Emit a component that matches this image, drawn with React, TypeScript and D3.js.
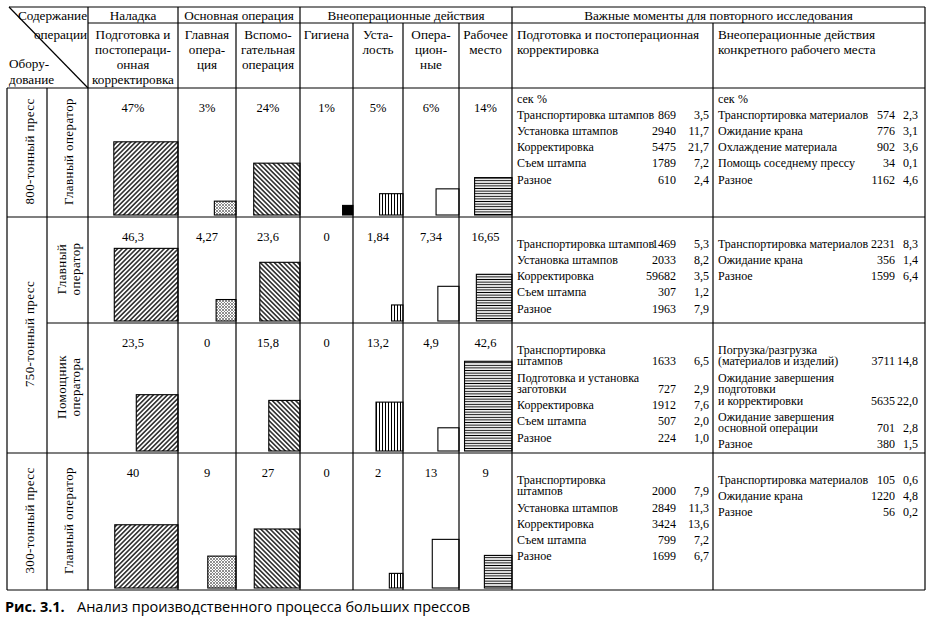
import React from "react";
import * as d3 from "d3";

// ---------- DATA ----------
const groupHeaders = [
  "Наладка",
  "Основная операция",
  "Внеоперационные действия",
  "Важные моменты для повторного исследования",
];
const categoryHeaders = [
  ["Подготовка и", "постопераци-", "онная", "корректировка"],
  ["Главная", "опера-", "ция"],
  ["Вспомо-", "гательная", "операция"],
  ["Гигиена"],
  ["Уста-", "лость"],
  ["Опера-", "цион-", "ные"],
  ["Рабочее", "место"],
];
const noteHeaders = [
  ["Подготовка и постоперационная", "корректировка"],
  ["Внеоперационные действия", "конкретного рабочего места"],
];
const cornerTop = ["Содержание", "операции"];
const cornerBottom = ["Обору-", "дование"];
const presses = ["800-тонный пресс", "750-тонный пресс", "300-тонный пресс"];
const pressRows = [[0, 0], [1, 2], [3, 3]];
const roles = [
  ["Главный оператор"],
  ["Главный", "оператор"],
  ["Помощник", "оператора"],
  ["Главный оператор"],
];

const values = [
  [47, 3, 24, 1, 5, 6, 14],
  [46.3, 4.27, 23.6, 0, 1.84, 7.34, 16.65],
  [23.5, 0, 15.8, 0, 13.2, 4.9, 42.6],
  [40, 9, 27, 0, 2, 13, 9],
];
const valueLabels = [
  ["47%", "3%", "24%", "1%", "5%", "6%", "14%"],
  ["46,3", "4,27", "23,6", "0", "1,84", "7,34", "16,65"],
  ["23,5", "0", "15,8", "0", "13,2", "4,9", "42,6"],
  ["40", "9", "27", "0", "2", "13", "9"],
];
// height / width ratio of each drawn rectangle (area ~ value)
const barAspect = [
  [1.14, 0.64, 1.12, 0.92, 0.91, 1.14, 1.0],
  [1.14, 1.08, 1.46, 1, 1.4, 1.64, 1.31],
  [1.35, 1, 1.62, 1, 1.81, 1.1, 1.89],
  [1.0, 1.13, 1.29, 1, 1.07, 1.82, 1.18],
];

type Note = [string[], string, string];
const prepNotes: Note[][] = [
  [
    [["Транспортировка штампов"], "869", "3,5"],
    [["Установка штампов"], "2940", "11,7"],
    [["Корректировка"], "5475", "21,7"],
    [["Съем штампа"], "1789", "7,2"],
    [["Разное"], "610", "2,4"],
  ],
  [
    [["Транспортировка штампов"], "1469", "5,3"],
    [["Установка штампов"], "2033", "8,2"],
    [["Корректировка"], "59682", "3,5"],
    [["Съем штампа"], "307", "1,2"],
    [["Разное"], "1963", "7,9"],
  ],
  [
    [["Транспортировка", "штампов"], "1633", "6,5"],
    [["Подготовка и установка", "заготовки"], "727", "2,9"],
    [["Корректировка"], "1912", "7,6"],
    [["Съем штампа"], "507", "2,0"],
    [["Разное"], "224", "1,0"],
  ],
  [
    [["Транспортировка", "штампов"], "2000", "7,9"],
    [["Установка штампов"], "2849", "11,3"],
    [["Корректировка"], "3424", "13,6"],
    [["Съем штампа"], "799", "7,2"],
    [["Разное"], "1699", "6,7"],
  ],
];
const nonopNotes: Note[][] = [
  [
    [["Транспортировка материалов"], "574", "2,3"],
    [["Ожидание крана"], "776", "3,1"],
    [["Охлаждение материала"], "902", "3,6"],
    [["Помощь соседнему прессу"], "34", "0,1"],
    [["Разное"], "1162", "4,6"],
  ],
  [
    [["Транспортировка материалов"], "2231", "8,3"],
    [["Ожидание крана"], "356", "1,4"],
    [["Разное"], "1599", "6,4"],
  ],
  [
    [["Погрузка/разгрузка", "(материалов и изделий)"], "3711", "14,8"],
    [["Ожидание завершения", "подготовки", "и корректировки"], "5635", "22,0"],
    [["Ожидание завершения", "основной операции"], "701", "2,8"],
    [["Разное"], "380", "1,5"],
  ],
  [
    [["Транспортировка материалов"], "105", "0,6"],
    [["Ожидание крана"], "1220", "4,8"],
    [["Разное"], "56", "0,2"],
  ],
];
const unitsHeader = ["сек", "%"];
const captionBold = "Рис. 3.1.";
const captionText = "Анализ производственного процесса больших прессов";

// ---------- LAYOUT / STYLE ----------
const W = 934;
const H = 624;
const COL = [88, 178, 236, 300, 353, 403, 459, 512, 713, 925];
const ROW = [88, 217, 323, 453, 590];
const LEFT = 7;
const PRESS_X = 47;
const TOP = 7;
const MID = 23;
const groupSpan = [[0, 1], [1, 3], [3, 7], [7, 9]];
const SERIF = "'Liberation Serif', 'Times New Roman', serif";
const FS = 12;
const HFS = 13.2;
const fills = ["url(#pFwd)", "url(#pDots)", "url(#pBack)", "#000", "url(#pVert)", "#fff", "url(#pHor)"];
const LW = 1.2;
const WRAP = 11.5;
const STEP = 16.2;

const sideScale = d3.scaleSqrt().domain([0, 50]).range([0, 70.7]);

function NoteTable({ items, x, secX, pctX, y0 }: { items: Note[]; x: number; secX: number; pctX: number; y0: number }) {
  const out: React.ReactNode[] = [];
  let y = y0;
  items.forEach((it, i) => {
    const [lines, sec, pct] = it;
    lines.forEach((ln, j) => {
      out.push(
        <text key={`l${i}-${j}`} x={x} y={y} dy="0.35em">{ln}</text>
      );
      if (j === lines.length - 1) {
        out.push(<text key={`s${i}`} x={secX} y={y} dy="0.35em" textAnchor="end">{sec}</text>);
        out.push(<text key={`p${i}`} x={pctX} y={y} dy="0.35em" textAnchor="end">{pct}</text>);
      } else {
        y += WRAP;
      }
    });
    y += STEP;
  });
  return <g>{out}</g>;
}

export default function App() {
  const lines: React.ReactNode[] = [];
  const hl = (y: number, x1: number, x2: number, k: string) =>
    lines.push(<line key={k} x1={x1} x2={x2} y1={y} y2={y} />);
  const vl = (x: number, y1: number, y2: number, k: string) =>
    lines.push(<line key={k} x1={x} x2={x} y1={y1} y2={y2} />);

  hl(TOP, 9, COL[9], "ht");
  hl(MID, COL[0], COL[9], "hm");
  hl(ROW[0], LEFT, COL[9], "h0");
  hl(ROW[1], LEFT, COL[9], "h1");
  hl(ROW[2], PRESS_X, COL[9], "h2");
  hl(ROW[3], LEFT, COL[9], "h3");
  hl(ROW[4], LEFT, COL[9], "h4");
  vl(LEFT, ROW[0], ROW[4], "vl");
  vl(PRESS_X, ROW[0], ROW[4], "vp");
  const groupEdges = new Set(groupSpan.map((g) => g[1]).concat([0]));
  COL.forEach((x, i) => vl(x, groupEdges.has(i) ? TOP : MID, ROW[4], `v${i}`));
  lines.push(<line key="diag" x1={9} y1={TOP} x2={COL[0]} y2={ROW[0]} />);

  const bars: React.ReactNode[] = [];
  const labels: React.ReactNode[] = [];
  values.forEach((row, r) => {
    row.forEach((v, c) => {
      const cx = (COL[c] + COL[c + 1]) / 2;
      labels.push(
        <text key={`v${r}-${c}`} x={cx} y={ROW[r] + 20} dy="0.35em" textAnchor="middle" fontSize={12.5}>
          {valueLabels[r][c]}
        </text>
      );
      if (v > 0) {
        const s = sideScale(v);
        const a = barAspect[r][c];
        const w = s / Math.sqrt(a);
        const h = s * Math.sqrt(a);
        bars.push(
          <rect key={`b${r}-${c}`} x={COL[c + 1] - w} y={ROW[r + 1] - 2 - h} width={w} height={h}
            fill={fills[c]} stroke="#000" strokeWidth={1.1} />
        );
      }
    });
  });

  return (
    <svg width={W} height={H} style={{ position: "absolute", left: 0, top: 0, background: "#fff" }}
      fontFamily={SERIF} fontSize={FS} fill="#000">
      <defs>
        <pattern id="pFwd" patternUnits="userSpaceOnUse" width={3.3} height={3.3} patternTransform="rotate(45)">
          <rect width={3.3} height={3.3} fill="#fff" />
          <line x1={1.65} x2={1.65} y1={-1} y2={5} stroke="#000" strokeWidth={1.3} />
        </pattern>
        <pattern id="pBack" patternUnits="userSpaceOnUse" width={3.3} height={3.3} patternTransform="rotate(-45)">
          <rect width={3.3} height={3.3} fill="#fff" />
          <line x1={1.65} x2={1.65} y1={-1} y2={5} stroke="#000" strokeWidth={1.3} />
        </pattern>
        <pattern id="pDots" patternUnits="userSpaceOnUse" width={3} height={3}>
          <rect width={3} height={3} fill="#fff" />
          <circle cx={1} cy={1} r={0.8} fill="#000" />
          <circle cx={2.5} cy={2.5} r={0.45} fill="#000" />
        </pattern>
        <pattern id="pVert" patternUnits="userSpaceOnUse" width={3} height={3}>
          <rect width={3} height={3} fill="#fff" />
          <line x1={1.5} x2={1.5} y1={0} y2={3} stroke="#000" strokeWidth={1} />
        </pattern>
        <pattern id="pHor" patternUnits="userSpaceOnUse" width={3} height={2.6}>
          <rect width={3} height={2.6} fill="#fff" />
          <line x1={0} x2={3} y1={1.3} y2={1.3} stroke="#000" strokeWidth={1} />
        </pattern>
      </defs>

      {/* header texts */}
      <g fontSize={HFS}>
        {groupHeaders.map((g, i) => (
          <text key={`g${i}`} x={(COL[groupSpan[i][0]] + COL[groupSpan[i][1]]) / 2} y={15} dy="0.35em" textAnchor="middle">{g}</text>
        ))}
        {categoryHeaders.map((ls, i) =>
          ls.map((t, j) => (
            <text key={`c${i}-${j}`} x={(COL[i] + COL[i + 1]) / 2} y={34.5 + j * 15} dy="0.35em" textAnchor="middle">{t}</text>
          ))
        )}
        {noteHeaders.map((ls, i) =>
          ls.map((t, j) => (
            <text key={`n${i}-${j}`} x={COL[7 + i] + 5} y={34.5 + j * 15} dy="0.35em">{t}</text>
          ))
        )}
        {cornerTop.map((t, j) => (
          <text key={`ct${j}`} x={COL[0] - 1} y={15 + j * 19.5} dy="0.35em" textAnchor="end">{t}</text>
        ))}
        {cornerBottom.map((t, j) => (
          <text key={`cb${j}`} x={9} y={63.5 + j * 16} dy="0.35em">{t}</text>
        ))}
      </g>

      {/* row labels */}
      {presses.map((p, i) => {
        const yc = (ROW[pressRows[i][0]] + ROW[pressRows[i][1] + 1]) / 2;
        return (
          <text key={`pr${i}`} transform={`translate(${(LEFT + PRESS_X) / 2 + 2},${yc - 1}) rotate(-90)`}
            dy="0.35em" textAnchor="middle" fontSize={13} letterSpacing={0.4}>{p}</text>
        );
      })}
      {roles.map((ls, r) => {
        const yc = (ROW[r] + ROW[r + 1]) / 2;
        return ls.map((t, j) => (
          <text key={`ro${r}-${j}`} transform={`translate(${(PRESS_X + COL[0]) / 2 + 1 + (j - (ls.length - 1) / 2) * 14},${yc - 1}) rotate(-90)`}
            dy="0.35em" textAnchor="middle" fontSize={13} letterSpacing={0.4}>{t}</text>
        ));
      })}

      {labels}
      {bars}

      {/* notes */}
      {[COL[7], COL[8]].map((x, i) => (
        <text key={`u${i}`} x={x + 5} y={ROW[0] + 11} dy="0.35em">
          {unitsHeader[0]}<tspan x={x + 25}>{unitsHeader[1]}</tspan>
        </text>
      ))}
      {prepNotes.map((items, r) => (
        <NoteTable key={`pn${r}`} items={items} x={COL[7] + 5} secX={676} pctX={709} y0={ROW[r] + 26.6} />
      ))}
      {nonopNotes.map((items, r) => (
        <NoteTable key={`nn${r}`} items={items} x={COL[8] + 5} secX={895} pctX={918} y0={ROW[r] + 26.6} />
      ))}

      <g stroke="#000" strokeWidth={LW} fill="none">{lines}</g>

      <text x={5} y={607} dy="0.35em" fontFamily="'Open Sans', 'Noto Sans', sans-serif" fontSize={14.5}>
        <tspan fontWeight="bold">{captionBold}</tspan>
        <tspan x={77}>{captionText}</tspan>
      </text>
    </svg>
  );
}
